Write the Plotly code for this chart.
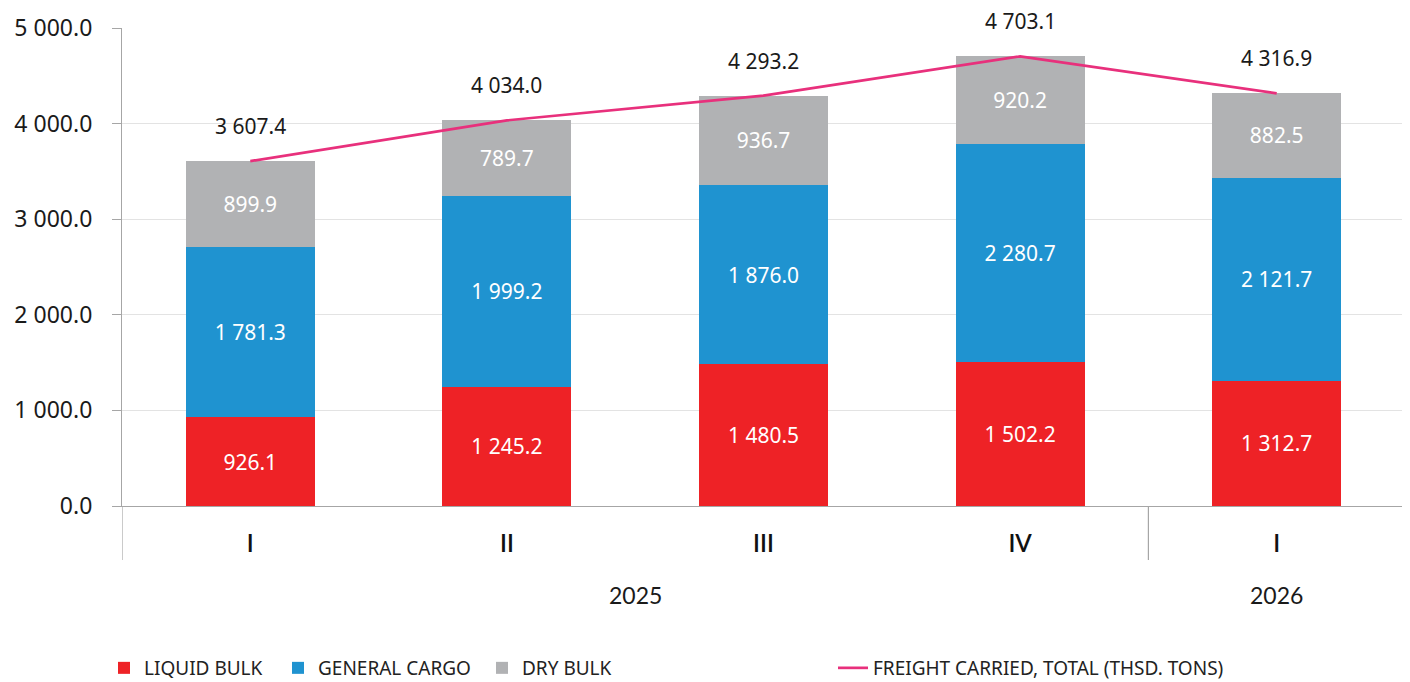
import plotly.graph_objects as go

quarters = ["I", "II", "III", "IV", "I"]
years = ["2025", "2025", "2025", "2025", "2026"]
liquid_bulk = [926.1, 1245.2, 1480.5, 1502.2, 1312.7]
general_cargo = [1781.3, 1999.2, 1876.0, 2280.7, 2121.7]
dry_bulk = [899.9, 789.7, 936.7, 920.2, 882.5]
total = [3607.4, 4034.0, 4293.2, 4703.1, 4316.9]
y_ticks = [0, 1000, 2000, 3000, 4000, 5000]

FONT = "Noto Sans"
LEG_FONT = "Noto Sans"
CAT_FONT = "Lato"
x = list(range(len(quarters)))

# page body has an 8px margin; figure sized to fit the window
W, H = 1402, 674

fig = go.Figure()
series = [
    ("LIQUID BULK", liquid_bulk, "#EE2226", "legend"),
    ("GENERAL CARGO", general_cargo, "#1F93D0", "legend2"),
    ("DRY BULK", dry_bulk, "#B1B2B4", "legend3"),
]
for name, vals, col, lg in series:
    fig.add_trace(go.Bar(
        x=x, y=vals, name=name, marker=dict(color=col, line=dict(width=0)),
        texttemplate="%{y:,.1f}", textposition="inside", insidetextanchor="middle",
        textangle=0, textfont=dict(color="white", size=21, family=FONT),
        legend=lg, hoverinfo="skip", showlegend=True,
    ))

fig.add_trace(go.Scatter(
    x=x, y=total, mode="lines", name="FREIGHT CARRIED, TOTAL (THSD. TONS)",
    line=dict(color="#E8307C", width=2.7), legend="legend4", hoverinfo="skip",
    showlegend=True,
))

for xi, t in zip(x, total):
    fig.add_annotation(x=xi, y=t, xref="x", yref="y", text=f"{t:,.1f}".replace(",", " "),
                       showarrow=False, yanchor="middle", yshift=35,
                       font=dict(size=21, color="#1a1a1a", family=FONT))

# year group labels
groups = {}
for xi, yr in zip(x, years):
    groups.setdefault(yr, []).append(xi)
for yr, xs in groups.items():
    fig.add_annotation(x=sum(xs) / len(xs), y=-0.186, xref="x", yref="paper", text=yr,
                       showarrow=False, yanchor="middle",
                       font=dict(size=23, color="#1a1a1a", family=CAT_FONT))

# dividers
div_x = [-0.5]
for i in range(1, len(years)):
    if years[i] != years[i - 1]:
        div_x.append(i - 0.5)
div_x.append(len(years) - 0.5)
for dx in div_x:
    fig.add_shape(type="line", xref="x", yref="paper", x0=dx, x1=dx, y0=0, y1=-0.113,
                  line=dict(color="#A6A6A6", width=1.2))

legend_common = dict(orientation="h", yanchor="middle", y=1 - 660 / H, yref="container",
                     xanchor="left", xref="container",
                     font=dict(size=19, color="#222222", family=LEG_FONT),
                     bgcolor="rgba(0,0,0,0)")
fig.update_layout(
    width=W, height=H,
    showlegend=True,
    margin=dict(l=114, r=5, t=20, b=176),
    plot_bgcolor="white", paper_bgcolor="white",
    barmode="stack", bargap=0.497,
    separators=". ",
    font=dict(family=FONT, color="#1a1a1a"),
    legend=dict(x=96 / W, **legend_common),
    legend2=dict(x=270 / W, **legend_common),
    legend3=dict(x=474 / W, **legend_common),
    legend4=dict(x=825 / W, **legend_common),
    xaxis=dict(range=[-0.5, len(x) - 0.5], tickvals=x, ticktext=quarters,
               showline=True, linecolor="#A6A6A6", linewidth=1.2, ticks="",
               showgrid=False, zeroline=False, ticklabelstandoff=16, automargin=False,
               tickfont=dict(size=24, color="#111111", family=CAT_FONT, weight=600)),
    yaxis=dict(range=[0, 5000], tickvals=y_ticks, tickformat=",.1f",
               showline=True, linecolor="#A6A6A6", linewidth=1.2,
               ticks="outside", ticklen=9, tickcolor="#A6A6A6", tickwidth=1.2,
               showgrid=True, gridcolor="#E3E3E3", gridwidth=1, zeroline=False,
               ticklabelstandoff=15, automargin=False,
               tickfont=dict(size=23, color="#1a1a1a", family=FONT)),
)

fig.write_html("out.html")
